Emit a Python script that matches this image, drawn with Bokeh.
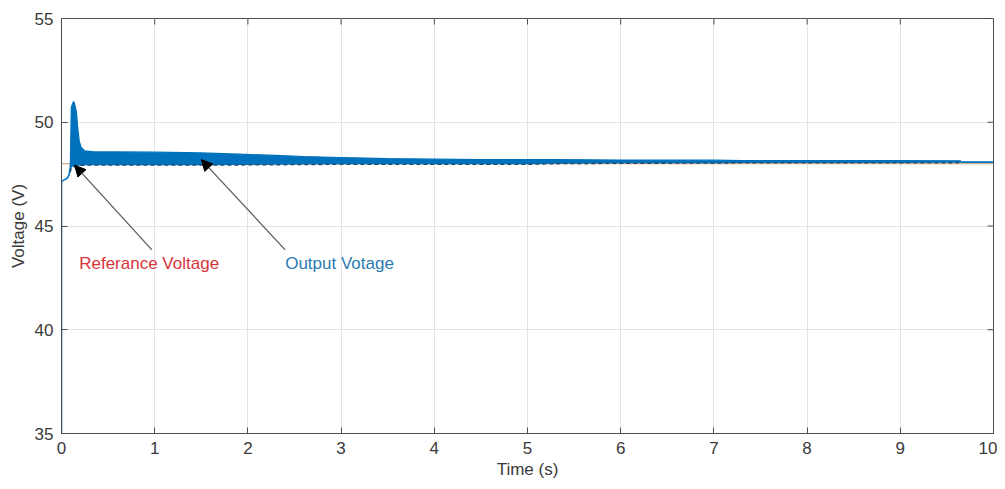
from bokeh.plotting import figure
from bokeh.models import Range1d, FixedTicker, Arrow, NormalHead, Label, ColumnDataSource
from bokeh.embed import file_html
from bokeh.resources import INLINE

# ---------------- data ----------------
x_ticks = [0, 1, 2, 3, 4, 5, 6, 7, 8, 9, 10]
y_ticks = [35, 40, 45, 50, 55]

# start-up transient of the output voltage
start_t = [0.0, 0.0, 0.02, 0.06, 0.08, 0.09, 0.097]
start_v = [35.0, 47.15, 47.2, 47.3, 47.45, 47.7, 47.95]

# envelope of the oscillating output voltage
band_t = [0.095, 0.105, 0.115, 0.13, 0.14, 0.16, 0.175, 0.19, 0.21, 0.25, 0.35,
          0.6, 1.0, 1.5, 1.9, 2.3, 2.6, 3.0, 3.5, 4.0, 4.5, 5.0, 5.3, 6.0, 7.0,
          7.3, 8.0, 9.0, 9.65]
band_hi = [47.9, 50.7, 50.85, 51.0, 50.9, 50.5, 49.7, 49.1, 48.8, 48.62, 48.57,
           48.57, 48.56, 48.52, 48.46, 48.4, 48.35, 48.3, 48.25, 48.22, 48.2,
           48.2, 48.2, 48.18, 48.17, 48.15, 48.15, 48.15, 48.14]
band_lo = [47.6, 47.8, 47.85, 47.85, 47.85, 47.88, 47.9, 47.9, 47.92, 47.93,
           47.93, 47.93, 47.93, 47.93, 47.94, 47.95, 47.96, 47.97, 47.97, 47.97,
           47.97, 47.97, 48.0, 48.02, 48.03, 48.04, 48.04, 48.04, 48.05]

# settled tail
tail_t = [9.65, 10.0]
tail_v = [48.08, 48.08]

# reference voltage
ref_t = [0.0, 10.0]
ref_v = [48.0, 48.0]

# annotations
ann_text = ["Referance Voltage", "Output Votage"]
ann_tx = [0.19, 2.40]
ann_ty = [43.2, 43.2]
arr_x0 = [0.97, 2.40]
arr_y0 = [43.85, 43.85]
arr_x1 = [0.14, 1.50]
arr_y1 = [47.93, 48.2]
ann_col = ["#d7343a", "#2b7bb0"]

# ---------------- figure ----------------
FONT = "Liberation Sans"
BLUE = "#0072BD"
AXC = "#4d4d4d"
X0, X1, Y0, Y1 = 0, 10, 35, 55

p = figure(width=997, height=489, output_backend="svg", toolbar_location=None,
           x_range=Range1d(X0, X1), y_range=Range1d(Y0, Y1),
           min_border_left=61, min_border_right=4, min_border_top=18,
           min_border_bottom=56, background_fill_color="white",
           border_fill_color="white")
p.outline_line_color = AXC
p.outline_line_width = 1

# grid
for g in (p.xgrid, p.ygrid):
    g.grid_line_color = "#e3e3e3"
    g.grid_line_width = 1
p.xgrid.ticker = FixedTicker(ticks=x_ticks)
p.ygrid.ticker = FixedTicker(ticks=y_ticks)

# main axes
p.xaxis.ticker = FixedTicker(ticks=x_ticks)
p.yaxis.ticker = FixedTicker(ticks=y_ticks)
p.xaxis.axis_label = "Time (s)"
p.yaxis.axis_label = "Voltage (V)"
for ax in (p.xaxis[0], p.yaxis[0]):
    ax.axis_line_color = AXC
    ax.major_tick_line_color = AXC
    ax.major_tick_in = 6
    ax.major_tick_out = 0
    ax.minor_tick_line_color = None
    ax.major_label_text_font = FONT
    ax.major_label_text_font_size = "17px"
    ax.major_label_text_color = "#3a3a3a"
    ax.axis_label_text_font = FONT
    ax.axis_label_text_font_size = "17px"
    ax.axis_label_text_font_style = "normal"
    ax.axis_label_text_color = "#3a3a3a"
p.xaxis.major_label_standoff = 8
p.xaxis.axis_label_standoff = 3
p.yaxis.major_label_standoff = 8
p.yaxis.axis_label_standoff = 4

# box ticks on the top and right edges (MATLAB style)
tick_len_y = 6 * (Y1 - Y0) / 415
tick_len_x = 6 * (X1 - X0) / 932
p.segment(x0=x_ticks, y0=[Y1] * len(x_ticks), x1=x_ticks,
          y1=[Y1 - tick_len_y] * len(x_ticks), line_color=AXC, line_width=1)
p.segment(x0=[X1] * len(y_ticks), y0=y_ticks, x1=[X1 - tick_len_x] * len(y_ticks),
          y1=y_ticks, line_color=AXC, line_width=1)

# reference voltage
p.line(ref_t, ref_v, line_color="#c99a6e", line_width=1.2)

# output voltage
p.line(start_t, start_v, line_color=BLUE, line_width=1.6)
band = ColumnDataSource(dict(t=band_t, hi=band_hi, lo=band_lo))
p.varea(x="t", y1="lo", y2="hi", source=band, fill_color=BLUE)
p.line("t", "hi", source=band, line_color=BLUE, line_width=1.2)
p.line("t", "lo", source=band, line_color="#23476b", line_width=1.3,
       line_dash="4 3")
p.line(tail_t, tail_v, line_color=BLUE, line_width=1.6)

# annotations
for i in range(len(ann_text)):
    p.add_layout(Arrow(end=NormalHead(size=11, fill_color="black",
                                      line_color="black"),
                       x_start=arr_x0[i], y_start=arr_y0[i],
                       x_end=arr_x1[i], y_end=arr_y1[i],
                       line_color="#555555", line_width=1.2))
    p.add_layout(Label(x=ann_tx[i], y=ann_ty[i], text=ann_text[i],
                       text_font=FONT, text_font_size="17px",
                       text_color=ann_col[i], text_baseline="middle",
                       text_align="left"))

open("out.html", "w").write(file_html(p, INLINE))
